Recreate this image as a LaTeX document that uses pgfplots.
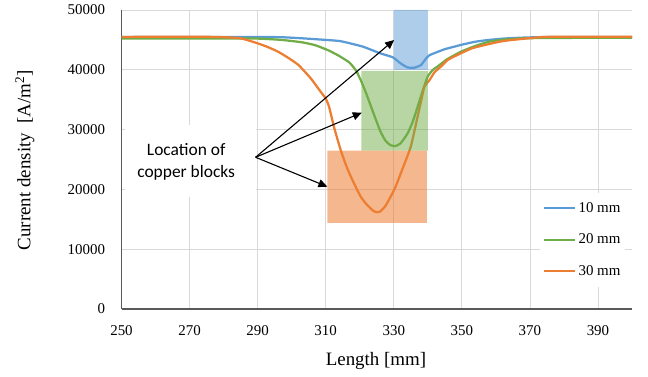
\documentclass[border=0pt]{standalone}
\usepackage{fontspec}
\setmainfont{Liberation Serif}
\newfontfamily\carlito{Carlito}
\usepackage{pgfplots}
\pgfplotsset{compat=1.18}
\usetikzlibrary{arrows.meta}
\definecolor{cblue}{HTML}{5B9BD5}
\definecolor{cgreen}{HTML}{70AD47}
\definecolor{corange}{HTML}{ED7D31}
\definecolor{gridgray}{HTML}{D9D9D9}
\definecolor{axisgray}{HTML}{595959}
\begin{document}
\begin{tikzpicture}
\path[use as bounding box] (0,0) rectangle (648bp,377bp);
\begin{axis}[
  at={(121.5bp,68bp)}, anchor=south west,
  scale only axis, width=510.5bp, height=299bp,
  xmin=250, xmax=400, ymin=0, ymax=50000,
  xtick={250,270,...,390}, ytick={0,10000,...,50000},
  scaled y ticks=false,
  /pgf/number format/assume math mode=true,
  /pgf/number format/1000 sep={},
  /pgf/number format/fixed,
  axis x line=bottom, axis y line=left,
  axis line style={-, draw=axisgray, line width=1.2bp},
  major tick length=0pt,
  grid=major,
  major grid style={draw=gridgray, line width=0.8bp},
  tick label style={font=\fontsize{15}{18}\selectfont, text=black},
  yticklabel style={xshift=-13bp},
  xticklabel style={yshift=-13bp},
  xlabel={Length [mm]},
  ylabel={Current density\ \ [A/m\textsuperscript{2}]},
  label style={font=\fontsize{19}{22}\selectfont},
  xlabel style={at={(axis description cs:0.4985,-0.174)}, anchor=center},
  ylabel style={at={(axis description cs:-0.189,0.498)}, anchor=center, rotate=0},
  legend style={draw=none, fill=white, at={(axis description cs:0.82,0.39)}, anchor=north west,
    font=\fontsize{15}{18}\selectfont, row sep=16bp, inner xsep=3bp, inner ysep=8bp},
  legend cell align=left,
  legend image code/.code={\draw[#1] (0bp,0bp) -- (31bp,0bp);},
]
\addplot[cblue, line width=2.25bp, smooth, tension=0.3] coordinates {
(250,45500) (270,45500) (290,45480) (297,45450) (303,45270) (310,45000) (314,44820)
(317,44450) (321,43860) (326,42760) (329.7,42090) (332,41080) (334,40410) (336,40350)
(338,40800) (339.5,41900) (340.5,42450) (342,42800) (345,43450) (348,43900) (350,44200)
(354,44700) (358,45000) (363,45250) (368,45380) (375,45480) (400,45500)};
\addlegendentry{10 mm}
\addplot[cgreen, line width=2.25bp, smooth, tension=0.3] coordinates {
(250,45250) (285,45250) (291,45200) (297,45000) (303,44600) (307,44100) (311,43200)
(314,42300) (317,41200) (319,39800) (320.5,38000) (322,35900) (324,32800) (326,29800)
(327.5,28200) (329,27400) (330.5,27250) (332,27700) (334,29300) (335.5,31200) (337,33800)
(338.5,36500) (340,38900) (341.5,40000) (343,40600) (345.5,41700) (348,42500) (350,43100)
(354,44000) (358,44700) (363,45100) (368,45250) (375,45330) (400,45350)};
\addlegendentry{20 mm}
\addplot[corange, line width=2.25bp, smooth, tension=0.3] coordinates {
(250,45500) (273,45530) (280,45450) (285,45270) (290,44430) (293,43800) (296,43030)
(299,42000) (302,40800) (305.6,38580) (308.5,36340) (310,35200) (311,33800) (312.5,30300)
(314.4,26590) (316,24000) (317.4,22120) (319,20200) (320.3,18780) (322,17500) (324,16400)
(325,16200) (326,16300) (327.5,17200) (329,18700) (330.5,20400) (332,22600) (333.5,24800)
(335,27140) (336,29600) (337,32160) (338,34700) (339,37170) (340.4,38200) (342,39600)
(343.8,40520) (346,41700) (349.7,42760) (353,43600) (357.6,44260) (362,44800) (367.4,45150)
(372,45400) (377,45530) (400,45530)};
\addlegendentry{30 mm}
% copper block locations
\addplot[draw=none, fill=cblue, fill opacity=0.5, forget plot] coordinates {
(330,40000) (340,40000) (340,50000) (330,50000) (330,40000)};
\addplot[draw=none, fill=cgreen, fill opacity=0.5, forget plot] coordinates {
(320.5,26500) (340,26500) (340,39800) (320.5,39800) (320.5,26500)};
\addplot[draw=none, fill=corange, fill opacity=0.55, forget plot] coordinates {
(310.5,14400) (339.7,14400) (339.7,26500) (310.5,26500) (310.5,14400)};
% annotation
\node[fill=white, minimum width=131bp, minimum height=72bp, inner sep=0pt] at (axis cs:270.3,24750) {};
\node[align=center, font=\carlito\fontsize{17.5}{22}\selectfont, inner sep=0pt] at (axis cs:269,24630) {Location of\\copper blocks};
\draw[line width=1.1bp, -{Triangle[length=9bp,width=8bp]}] (axis cs:289.4,25370) -- (axis cs:330.1,44980);
\draw[line width=1.1bp, -{Triangle[length=9bp,width=8bp]}] (axis cs:289.4,25370) -- (axis cs:320.6,32830);
\draw[line width=1.1bp, -{Triangle[length=9bp,width=8bp]}] (axis cs:289.4,25370) -- (axis cs:310.5,20450);
\end{axis}
\end{tikzpicture}
\end{document}
